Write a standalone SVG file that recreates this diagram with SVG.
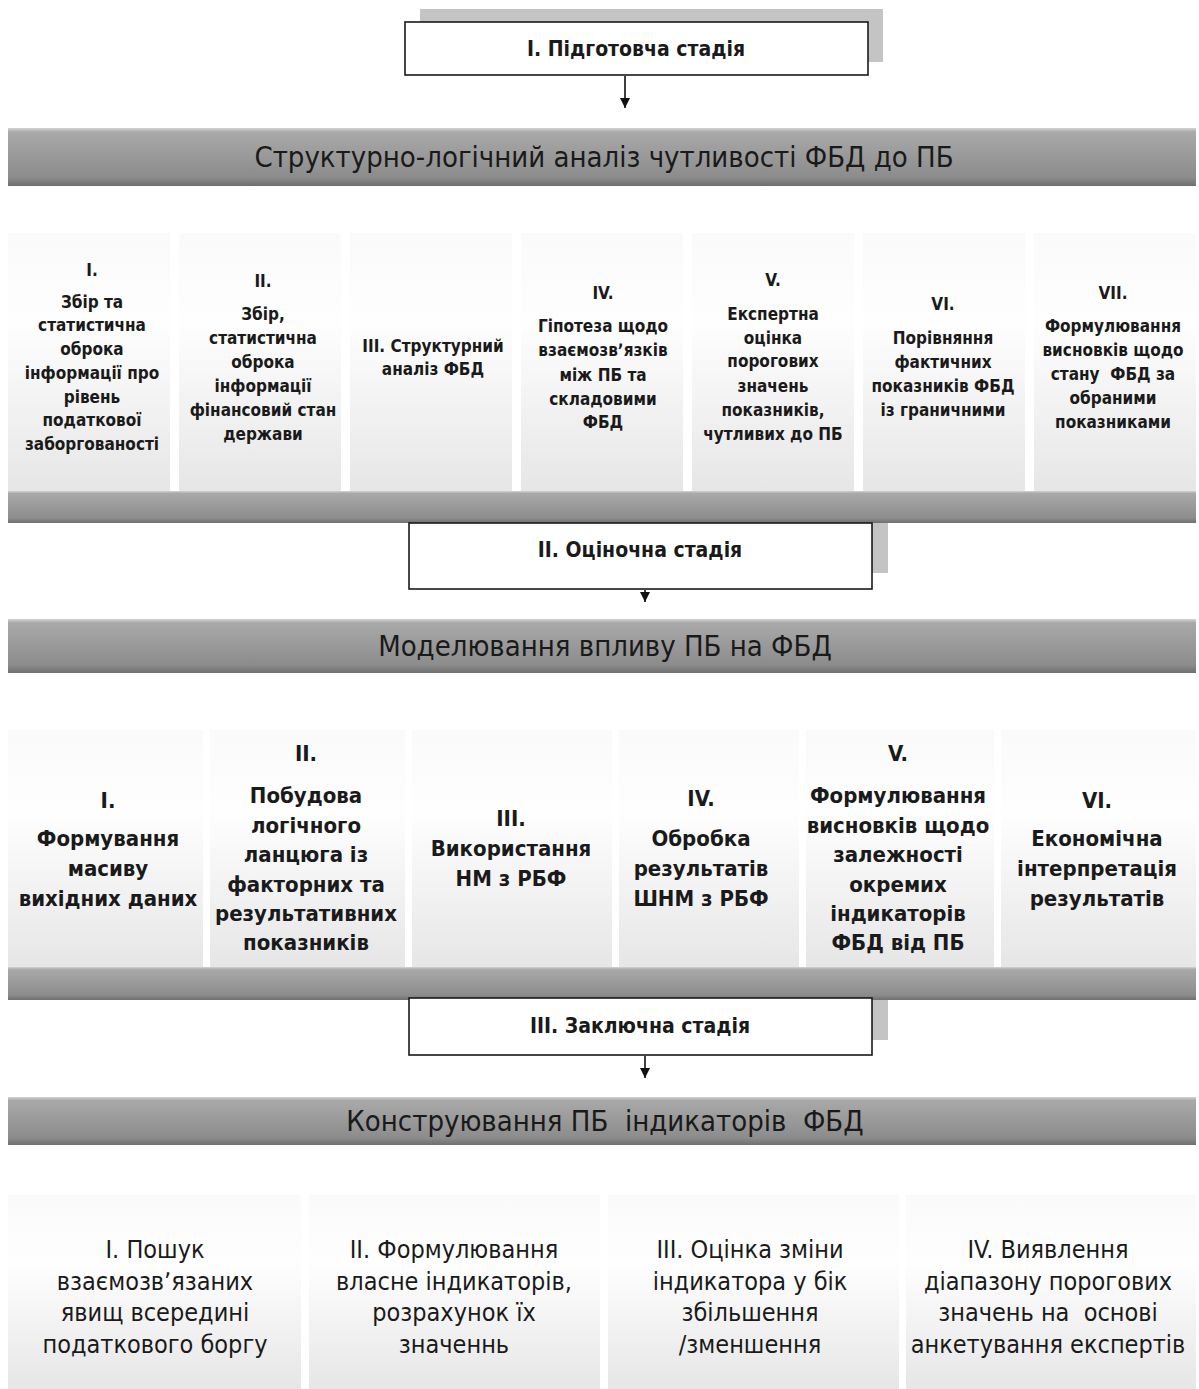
<svg xmlns="http://www.w3.org/2000/svg" width="1199" height="1389" viewBox="0 0 1199 1389">
<defs>
<linearGradient id="ban" x1="0" y1="0" x2="0" y2="1">
<stop offset="0" stop-color="#d4d4d4"/>
<stop offset="0.07" stop-color="#a9a9a9"/>
<stop offset="0.85" stop-color="#8c8c8c"/>
<stop offset="1" stop-color="#6f6f6f"/>
</linearGradient>
<linearGradient id="box" x1="0" y1="0" x2="0" y2="1">
<stop offset="0" stop-color="#fafafa"/>
<stop offset="0.35" stop-color="#fefefe"/>
<stop offset="1" stop-color="#e6e6e6"/>
</linearGradient>
<marker id="ah" markerWidth="10" markerHeight="10" refX="10" refY="5" orient="auto" markerUnits="userSpaceOnUse">
<path d="M0,0 L10,5 L0,10 Z" fill="#111"/>
</marker>
<style>
.ban{fill:url(#ban)}
.box{fill:url(#box)}
.sh{fill:#c4c4c4}
.st{fill:#fff;stroke:#1a1a1a;stroke-width:1.6}
.conn{stroke:#111;stroke-width:1.6;fill:none}
text{font-family:"Liberation Sans Narrow","DejaVu Sans Condensed","Liberation Sans",sans-serif;fill:#1a1a1a;text-anchor:middle;dominant-baseline:central}
.stt{font-size:21px;font-weight:bold}
.bt{font-size:29px}
.t1{font-size:17px;font-weight:bold}
.t2{font-size:22px;font-weight:bold}
.t3{font-size:25px}
</style>
</defs>
<rect width="1199" height="1389" fill="#fff"/>

<g id="stage1">
<rect class="sh" x="420" y="9" width="463" height="53"/>
<rect class="st" x="405" y="22" width="463" height="53"/>
<text class="stt" x="636" y="49">І. Підготовча стадія</text>
</g>

<g id="banner1">
<rect class="ban" x="8" y="128" width="1188" height="58"/>
<text class="bt" x="604" y="157">Структурно-логічний аналіз чутливості ФБД до ПБ</text>
</g>

<g id="r1b1">
<rect class="box" x="8" y="233" width="162" height="258"/>
<text class="t1"><tspan x="92" y="270">І.</tspan><tspan x="92" y="302">Збір та</tspan><tspan x="92" y="325">статистична</tspan><tspan x="92" y="349">оброка</tspan><tspan x="92" y="373">інформації про</tspan><tspan x="92" y="397">рівень</tspan><tspan x="92" y="420">податкової</tspan><tspan x="92" y="444">заборгованості</tspan></text>
</g>
<g id="r1b2">
<rect class="box" x="179" y="233" width="162" height="258"/>
<text class="t1"><tspan x="263" y="281">ІІ.</tspan><tspan x="263" y="314">Збір,</tspan><tspan x="263" y="338">статистична</tspan><tspan x="263" y="362">оброка</tspan><tspan x="263" y="386">інформації</tspan><tspan x="263" y="410">фінансовий стан</tspan><tspan x="263" y="434">держави</tspan></text>
</g>
<g id="r1b3">
<rect class="box" x="350" y="233" width="162" height="258"/>
<text class="t1"><tspan x="433" y="346">ІІІ. Структурний</tspan><tspan x="433" y="369">аналіз ФБД</tspan></text>
</g>
<g id="r1b4">
<rect class="box" x="521" y="233" width="162" height="258"/>
<text class="t1"><tspan x="603" y="293">IV.</tspan><tspan x="603" y="326">Гіпотеза щодо</tspan><tspan x="603" y="350">взаємозвʼязків</tspan><tspan x="603" y="375">між ПБ та</tspan><tspan x="603" y="399">складовими</tspan><tspan x="603" y="422">ФБД</tspan></text>
</g>
<g id="r1b5">
<rect class="box" x="692" y="233" width="162" height="258"/>
<text class="t1"><tspan x="773" y="280">V.</tspan><tspan x="773" y="314">Експертна</tspan><tspan x="773" y="338">оцінка</tspan><tspan x="773" y="361">порогових</tspan><tspan x="773" y="386">значень</tspan><tspan x="773" y="410">показників,</tspan><tspan x="773" y="434">чутливих до ПБ</tspan></text>
</g>
<g id="r1b6">
<rect class="box" x="863" y="233" width="162" height="258"/>
<text class="t1"><tspan x="943" y="304">VI.</tspan><tspan x="943" y="338">Порівняння</tspan><tspan x="943" y="362">фактичних</tspan><tspan x="943" y="386">показників ФБД</tspan><tspan x="943" y="410">із граничними</tspan></text>
</g>
<g id="r1b7">
<rect class="box" x="1034" y="233" width="162" height="258"/>
<text class="t1" xml:space="preserve"><tspan x="1113" y="293">VII.</tspan><tspan x="1113" y="326">Формулювання</tspan><tspan x="1113" y="350">висновків щодо</tspan><tspan x="1113" y="374">стану  ФБД за</tspan><tspan x="1113" y="398">обраними</tspan><tspan x="1113" y="422">показниками</tspan></text>
</g>
<rect class="ban" x="8" y="491" width="1188" height="32"/>

<g id="stage2">
<rect class="sh" x="424" y="523" width="464" height="50"/>
<rect class="st" x="409" y="523" width="463" height="66"/>
<text class="stt" x="640" y="550">ІІ. Оціночна стадія</text>
</g>

<g id="banner2">
<rect class="ban" x="8" y="619" width="1188" height="54"/>
<text class="bt" x="605" y="646">Моделювання впливу ПБ на ФБД</text>
</g>

<g id="r2b1">
<rect class="box" x="8" y="730" width="195" height="237"/>
<text class="t2"><tspan x="108" y="800">І.</tspan><tspan x="108" y="838">Формування</tspan><tspan x="108" y="868">масиву</tspan><tspan x="108" y="898">вихідних даних</tspan></text>
</g>
<g id="r2b2">
<rect class="box" x="210" y="730" width="195" height="237"/>
<text class="t2"><tspan x="306" y="753">ІІ.</tspan><tspan x="306" y="795">Побудова</tspan><tspan x="306" y="825">логічного</tspan><tspan x="306" y="854">ланцюга із</tspan><tspan x="306" y="884">факторних та</tspan><tspan x="306" y="913">результативних</tspan><tspan x="306" y="942">показників</tspan></text>
</g>
<g id="r2b3">
<rect class="box" x="412" y="730" width="200" height="237"/>
<text class="t2"><tspan x="511" y="818">ІІІ.</tspan><tspan x="511" y="848">Використання</tspan><tspan x="511" y="878">НМ з РБФ</tspan></text>
</g>
<g id="r2b4">
<rect class="box" x="619" y="730" width="180" height="237"/>
<text class="t2"><tspan x="701" y="798">IV.</tspan><tspan x="701" y="838">Обробка</tspan><tspan x="701" y="868">результатів</tspan><tspan x="701" y="898">ШНМ з РБФ</tspan></text>
</g>
<g id="r2b5">
<rect class="box" x="806" y="730" width="188" height="237"/>
<text class="t2"><tspan x="898" y="753">V.</tspan><tspan x="898" y="795">Формулювання</tspan><tspan x="898" y="825">висновків щодо</tspan><tspan x="898" y="854">залежності</tspan><tspan x="898" y="884">окремих</tspan><tspan x="898" y="913">індикаторів</tspan><tspan x="898" y="942">ФБД від ПБ</tspan></text>
</g>
<g id="r2b6">
<rect class="box" x="1001" y="730" width="195" height="237"/>
<text class="t2"><tspan x="1097" y="800">VI.</tspan><tspan x="1097" y="838">Економічна</tspan><tspan x="1097" y="868">інтерпретація</tspan><tspan x="1097" y="898">результатів</tspan></text>
</g>
<rect class="ban" x="8" y="967" width="1188" height="33"/>

<g id="stage3">
<rect class="sh" x="424" y="1000" width="464" height="40"/>
<rect class="st" x="409" y="998" width="463" height="57"/>
<text class="stt" x="640" y="1026">ІІІ. Заключна стадія</text>
</g>

<g id="banner3">
<rect class="ban" x="8" y="1097" width="1188" height="48"/>
<text class="bt" x="605" y="1121" xml:space="preserve">Конструювання ПБ  індикаторів  ФБД</text>
</g>

<g id="r3b1">
<rect class="box" x="8" y="1195" width="293" height="194"/>
<text class="t3"><tspan x="155" y="1249">І. Пошук</tspan><tspan x="155" y="1281">взаємозвʼязаних</tspan><tspan x="155" y="1312">явищ всередині</tspan><tspan x="155" y="1344">податкового боргу</tspan></text>
</g>
<g id="r3b2">
<rect class="box" x="309" y="1195" width="291" height="194"/>
<text class="t3"><tspan x="454" y="1249">ІІ. Формулювання</tspan><tspan x="454" y="1281">власне індикаторів,</tspan><tspan x="454" y="1312">розрахунок їх</tspan><tspan x="454" y="1344">значеннь</tspan></text>
</g>
<g id="r3b3">
<rect class="box" x="608" y="1195" width="291" height="194"/>
<text class="t3"><tspan x="750" y="1249">ІІІ. Оцінка зміни</tspan><tspan x="750" y="1281">індикатора у бік</tspan><tspan x="750" y="1312">збільшення</tspan><tspan x="750" y="1344">/зменшення</tspan></text>
</g>
<g id="r3b4">
<rect class="box" x="906" y="1195" width="290" height="194"/>
<text class="t3" xml:space="preserve"><tspan x="1048" y="1249">IV. Виявлення</tspan><tspan x="1048" y="1281">діапазону порогових</tspan><tspan x="1048" y="1312">значень на  основі</tspan><tspan x="1048" y="1344">анкетування експертів</tspan></text>
</g>

<g id="connectors">
<line class="conn" x1="625" y1="76" x2="625" y2="108" marker-end="url(#ah)"/>
<line class="conn" x1="645" y1="590" x2="645" y2="602" marker-end="url(#ah)"/>
<line class="conn" x1="645" y1="1056" x2="645" y2="1078" marker-end="url(#ah)"/>
</g>
</svg>
